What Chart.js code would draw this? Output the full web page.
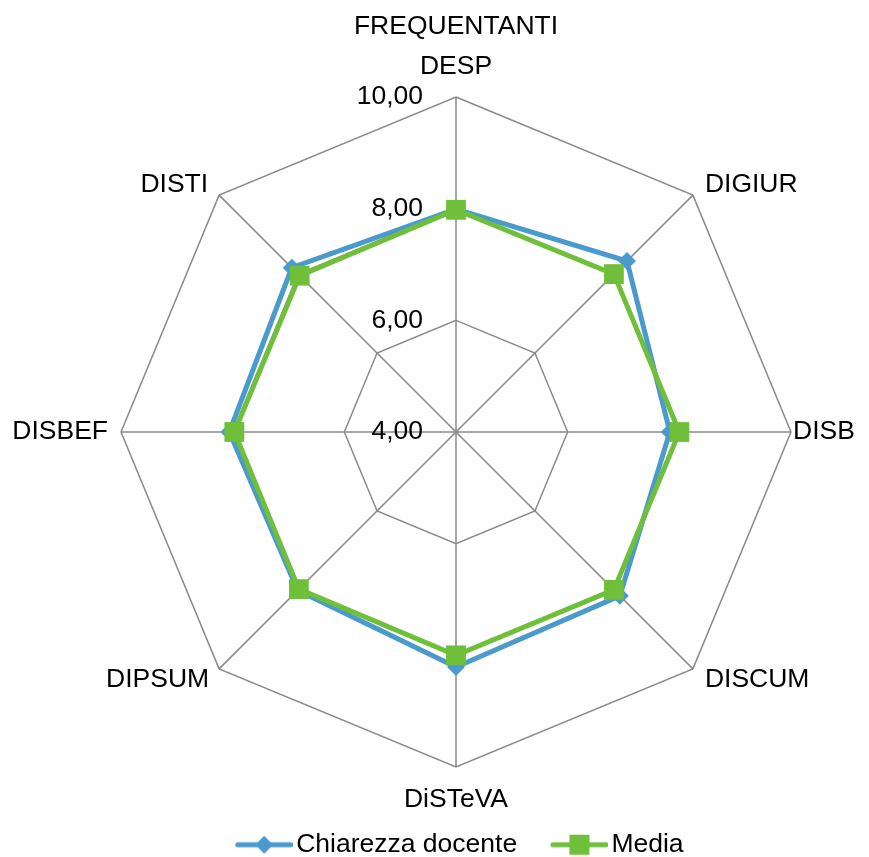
<!DOCTYPE html>
<html>
<head>
<meta charset="utf-8">
<script src="https://cdn.jsdelivr.net/npm/chart.js@4"></script>
<style>
  html, body { margin: 0; padding: 0; background: #fff; }
  #wrap { width: 869px; height: 857px; }
</style>
</head>
<body>
<div id="wrap"><canvas id="radar"></canvas></div>
<script>
var categories = [["FREQUENTANTI", "DESP"], "DIGIUR", "DISB", "DISCUM", "DiSTeVA", "DIPSUM", "DISBEF", "DISTI"];
var chiarezza = [7.99, 8.33, 7.83, 8.15, 8.21, 8.01, 8.06, 8.16];
var media = [7.98, 8.00, 8.00, 8.00, 8.00, 7.98, 7.97, 7.96];
var tickValues = [4, 6, 8, 10];

var blue = "#4a9acd";
var green = "#6fbf3b";
var gridColor = "#8a8a8a";
var font = "'Liberation Sans', Arial, sans-serif";
var fontSize = 26.5;

// where each category label sits next to its outer corner: [dx, dy, align]
var labelPlace = [
  [0, -30, "center"], [12, -10, "left"], [2, 0, "left"], [12, 11, "left"],
  [0, 33, "center"], [-10, 11, "right"], [-13, 0, "right"], [-11, -10, "right"]
];

function fmt(v) {
  return v.toFixed(2).replace(".", ",");
}

// line + marker picture for the legend
function legendIcon(color, shape) {
  var c = document.createElement("canvas");
  c.width = 74;
  c.height = 22;
  var g = c.getContext("2d");
  g.strokeStyle = color;
  g.lineWidth = 5;
  g.lineCap = "round";
  g.beginPath();
  g.moveTo(19, 11);
  g.lineTo(72, 11);
  g.stroke();
  g.fillStyle = color;
  g.beginPath();
  if (shape === "diamond") {
    g.moveTo(45.5, 2); g.lineTo(54.5, 11); g.lineTo(45.5, 20); g.lineTo(36.5, 11);
  } else {
    g.rect(35.5, 1, 20, 20);
  }
  g.closePath();
  g.fill();
  return c;
}

var radarText = {
  id: "radarText",
  afterDraw: function(chart) {
    var scale = chart.scales.r;
    var ctx = chart.ctx;
    ctx.save();
    ctx.font = fontSize + "px " + font;
    ctx.fillStyle = "#000";
    ctx.textBaseline = "middle";

    ctx.textAlign = "right";
    tickValues.forEach(function(v) {
      var d = scale.getDistanceFromCenterForValue(v);
      ctx.fillText(fmt(v), scale.xCenter - 33, scale.yCenter - d);
    });

    categories.forEach(function(lbl, i) {
      var p = scale.getPointPositionForValue(i, scale.max);
      var pl = labelPlace[i];
      var lines = Array.isArray(lbl) ? lbl : [lbl];
      ctx.textAlign = pl[2];
      lines.forEach(function(t, k) {
        var y = p.y + pl[1] - (lines.length - 1 - k) * 40;
        ctx.fillText(t, p.x + pl[0], y);
      });
    });
    ctx.restore();
  }
};

var icons = [legendIcon(blue, "diamond"), legendIcon(green, "square")];

new Chart(document.getElementById("radar"), {
  type: "radar",
  data: {
    labels: categories,
    datasets: [{
      label: "Chiarezza docente",
      data: chiarezza,
      borderColor: blue,
      backgroundColor: blue,
      borderWidth: 5,
      fill: false,
      pointStyle: "rectRot",
      pointRadius: 9,
      pointHoverRadius: 9,
      pointBorderWidth: 0,
      order: 1
    }, {
      label: "Media",
      data: media,
      borderColor: green,
      backgroundColor: green,
      borderWidth: 5,
      fill: false,
      pointStyle: "rect",
      pointRadius: 14,
      pointHoverRadius: 14,
      pointBorderWidth: 0,
      order: 0
    }]
  },
  options: {
    responsive: true,
    maintainAspectRatio: false,
    animation: false,
    layout: {
      padding: { left: 121, right: 78, top: 59, bottom: -11 }
    },
    elements: { line: { tension: 0 } },
    scales: {
      r: {
        min: 4,
        max: 10,
        ticks: { stepSize: 2, display: false },
        grid: { color: gridColor, lineWidth: 1.5 },
        angleLines: { color: gridColor, lineWidth: 1.5 },
        pointLabels: { display: false }
      }
    },
    plugins: {
      tooltip: { enabled: false },
      legend: {
        position: "bottom",
        labels: {
          color: "#000",
          font: { family: font, size: fontSize },
          usePointStyle: true,
          pointStyleWidth: 54.5,
          padding: 26.5,
          generateLabels: function(chart) {
            return chart.data.datasets.map(function(ds, i) {
              return {
                text: ds.label,
                pointStyle: icons[i],
                fillStyle: ds.borderColor,
                strokeStyle: ds.borderColor,
                lineWidth: 0,
                hidden: false,
                datasetIndex: i,
                fontColor: "#000"
              };
            });
          }
        }
      }
    }
  },
  plugins: [radarText]
});
</script>
</body>
</html>
